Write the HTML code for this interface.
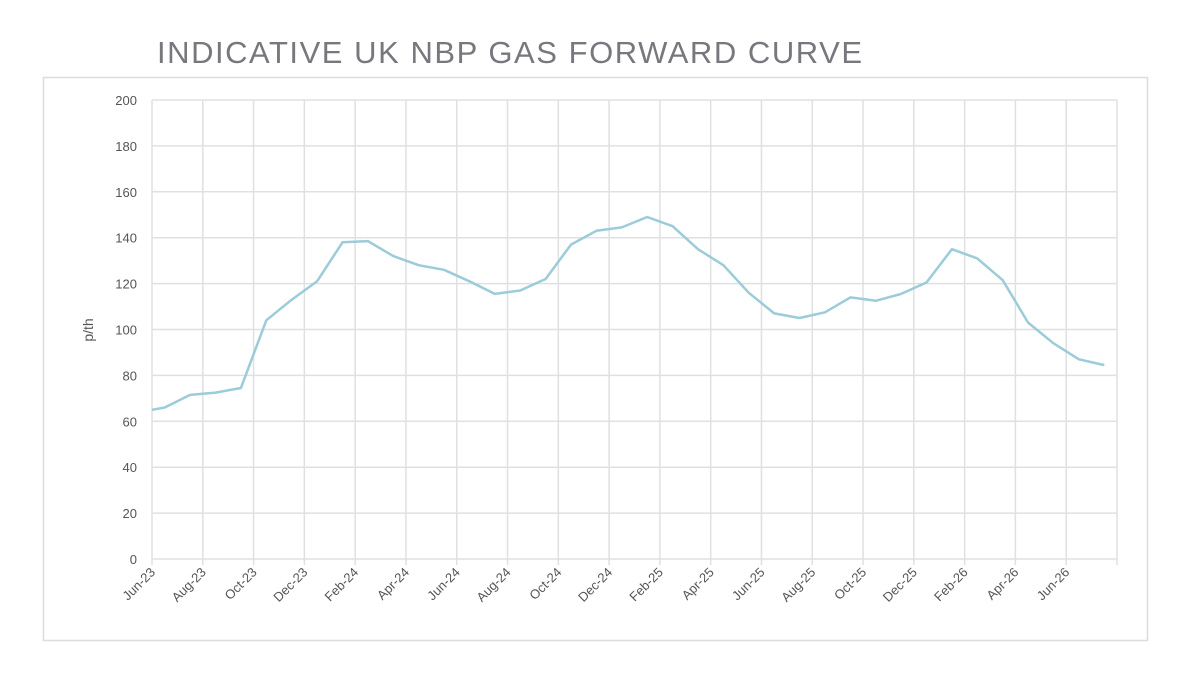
<!DOCTYPE html>
<html><head><meta charset="utf-8"><style>
body{margin:0;background:#fff;width:1200px;height:678px;overflow:hidden}
svg{display:block;font-family:"Liberation Sans",sans-serif}
</style></head><body>
<svg width="1200" height="678">
<rect x="43.5" y="77.5" width="1104" height="563" fill="#fff" stroke="#dcdcdc" stroke-width="1.5"/>
<text x="157" y="63" font-size="31" fill="#77777d" textLength="705" lengthAdjust="spacing">INDICATIVE UK NBP GAS FORWARD CURVE</text>
<g id="grid"></g><g id="labels"></g>
<text transform="translate(93,330) rotate(-90)" text-anchor="middle" font-size="14" fill="#555">p/th</text>
<path id="line" fill="none" stroke="#9ccbd9" stroke-width="2.5" stroke-linejoin="round"/>
</svg>
<script>
const monthPos=[0,0.5,1.5,2.5,3.5,4.5,5.5,6.5,7.5,8.5,9.5,10.5,11.5,12.5,13.5,14.5,15.5,16.5,17.5,18.5,19.5,20.5,21.5,22.5,23.5,24.5,25.5,26.5,27.5,28.5,29.5,30.5,31.5,32.5,33.5,34.5,35.5,36.5,37.5];
const values=[65,66,71.5,72.5,74.5,104,113,121,138,138.5,132,128,126,121,115.5,117,122,137,143,144.5,149,145,135,128,116,107,105,107.5,114,112.5,115.5,120.5,135,131,121.5,103,94,87,84.5];
const xTickLabels=["Jun-23","Aug-23","Oct-23","Dec-23","Feb-24","Apr-24","Jun-24","Aug-24","Oct-24","Dec-24","Feb-25","Apr-25","Jun-25","Aug-25","Oct-25","Dec-25","Feb-26","Apr-26","Jun-26"];
const yTicks=[0,20,40,60,80,100,120,140,160,180,200];
const X0=152,X1=1117,Y0=559,Y1=100,NM=38;
const xs=m=>X0+(X1-X0)*m/NM, ys=v=>Y0-(Y0-Y1)*v/200;
const NS="http://www.w3.org/2000/svg";
const g=document.getElementById('grid'),lb=document.getElementById('labels');
function mk(t,a,p){const e=document.createElementNS(NS,t);for(const k in a)e.setAttribute(k,a[k]);p.appendChild(e);return e;}
yTicks.forEach(v=>{
 const l=mk('line',{x1:X0,x2:X1,y1:ys(v),y2:ys(v),stroke:'#e0e0e0','stroke-width':1.5},g);
 
 
 const t=mk('text',{x:137,y:ys(v)+5,'text-anchor':'end','font-size':13,fill:'#555'},lb);
 t.textContent=v;
 
 
});
for(let i=0;i<=NM/2;i++){
 const x=xs(i*2);
 const l=mk('line',{x1:x,x2:x,y1:Y1,y2:Y0+6,stroke:'#e0e0e0','stroke-width':1.5},g);
 
 
 if(i<xTickLabels.length){
  const t=mk('text',{transform:`translate(${x+4},${Y0+14}) rotate(-45)`,'text-anchor':'end','font-size':13,fill:'#555'},lb);
  t.textContent=xTickLabels[i];
  
  
 }
}
document.getElementById('line').setAttribute('d',values.map((v,i)=>(i?'L':'M')+xs(monthPos[i]).toFixed(1)+','+ys(v).toFixed(1)).join(''));
</script>
</body></html>
